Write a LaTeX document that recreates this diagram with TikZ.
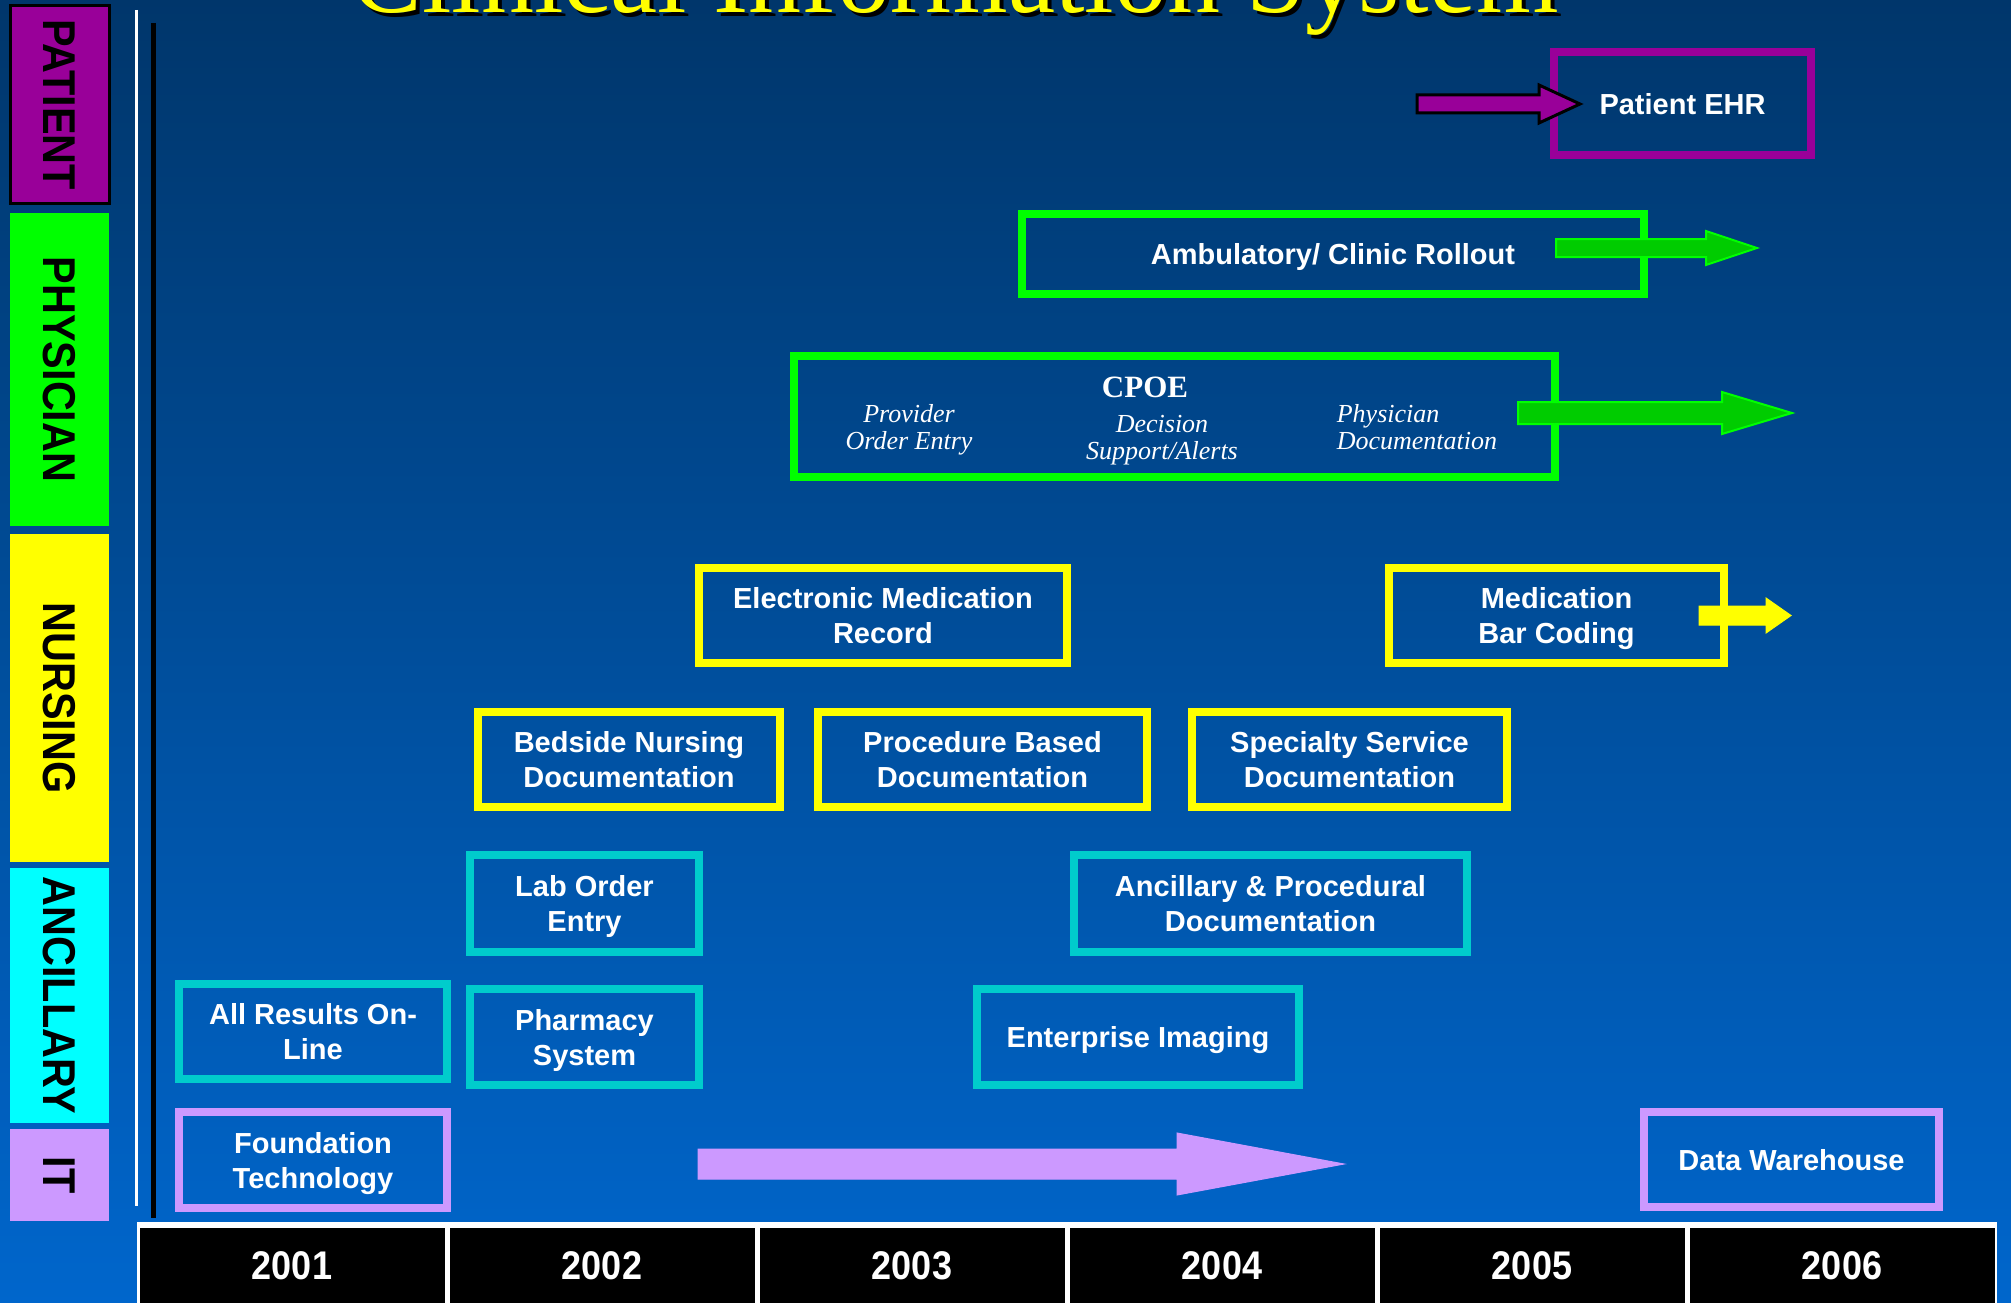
\documentclass[tikz,border=0pt]{standalone}
\usepackage{fontspec}
\setmainfont{Liberation Serif}
\setsansfont{Liberation Sans}
\usepackage{graphicx}

\definecolor{bgtop}{RGB}{0,54,107}
\definecolor{bgbot}{RGB}{0,102,204}
\definecolor{ehrpurple}{RGB}{153,0,153}
\definecolor{physgreen}{RGB}{0,255,0}
\definecolor{arrowgreen}{RGB}{0,204,0}
\definecolor{nursyellow}{RGB}{255,255,0}
\definecolor{anccyan}{RGB}{0,204,204}
\definecolor{lanecyan}{RGB}{0,255,255}
\definecolor{itlav}{RGB}{204,153,255}

\tikzset{
        taskbox/.style={draw, line width=8pt, inner sep=0pt, align=center, text=white, text depth=0pt,
            font=\sffamily\bfseries\fontsize{29}{35}\selectfont},
        patbox/.style={taskbox, draw=ehrpurple},
        physbox/.style={taskbox, draw=physgreen},
        nursbox/.style={taskbox, draw=nursyellow},
        ancbox/.style={taskbox, draw=anccyan},
        itbox/.style={taskbox, draw=itlav},
        lane/.style={inner sep=0pt, minimum height=99pt, rotate=-90, text=black,
            font=\sffamily\bfseries\fontsize{46}{50}\selectfont},
        yearcell/.style={fill=black, inner sep=0pt, minimum width=305pt, minimum height=76pt,
            text=white, font=\sffamily\bfseries\fontsize{40}{44}\selectfont},
        cpoeitem/.style={inner sep=0pt, align=center, text=white,
            font=\itshape\fontsize{26}{27}\selectfont}
    }

% block arrow: style, start x, tip x, y, half shaft, half head, head start x
\newcommand{\blockarrow}[7]{%
    \filldraw[#1] (#2,#4-#5) -- (#7,#4-#5) -- (#7,#4-#6) -- (#3,#4)
        -- (#7,#4+#6) -- (#7,#4+#5) -- (#2,#4+#5) -- cycle;}

\begin{document}
\begin{tikzpicture}[x=1pt,y=-1pt]
            \useasboundingbox (0,0) rectangle (2011,1303);
            \clip (0,0) rectangle (2011,1303);
            \shade[top color=bgtop, bottom color=bgbot] (0,0) rectangle (2011,1303);

            % title, cut by the top edge
            \node [anchor=base, text=black, font=\fontsize{106}{110}\selectfont] (title shadow) at (959,17) {Clinical Information System};
            \node [anchor=base, text=nursyellow, font=\fontsize{106}{110}\selectfont] (title) at (955,13) {Clinical Information System};

            % lanes
            \node [lane, fill=ehrpurple, draw=black, line width=3pt, minimum width=197pt] (patient) at (59.5,104.5) {\scalebox{0.9}[1]{PATIENT}};
            \node [lane, fill=physgreen, minimum width=313pt] (physician) at (59.5,369.5) {\scalebox{0.9}[1]{PHYSICIAN}};
            \node [lane, fill=nursyellow, minimum width=328pt] (nursing) at (59.5,698) {\scalebox{0.9}[1]{NURSING}};
            \node [lane, fill=lanecyan, minimum width=255pt] (ancillary) at (59.5,995.5) {\scalebox{0.9}[1]{ANCILLARY}};
            \node [lane, fill=itlav, minimum width=92pt] (it) at (59.5,1175) {\scalebox{0.9}[1]{IT}};

            \draw [white, line width=3pt] (136,10) -- (136,1206);
            \draw [black, line width=5pt] (153,23) -- (153,1218);

            % projects
            \node [patbox, minimum width=257pt, minimum height=103pt] (ehr) at (1682.5,103.5) {Patient EHR};
            \node [physbox, minimum width=622pt, minimum height=80pt] (ambulatory) at (1333,254) {Ambulatory/ Clinic Rollout};
            \node [physbox, minimum width=761pt, minimum height=121pt] (cpoe) at (1174.5,416.5) {};
            \node [inner sep=0pt, text=white, font=\bfseries\fontsize{31}{33}\selectfont] (cpoe title) at (1145,387) {CPOE};
            \node [cpoeitem] (provider) at (909,430) {Provider\\Order Entry};
            \node [cpoeitem] (decision) at (1162,440) {Decision\\Support/Alerts};
            \node [cpoeitem, align=left] (physdoc) at (1417,427) {Physician\\Documentation};

            \node [nursbox, minimum width=368pt, minimum height=95pt] (emr) at (883,615.5) {Electronic Medication\\Record};
            \node [nursbox, minimum width=335pt, minimum height=95pt] (barcode) at (1556.5,615.5) {Medication\\Bar Coding};
            \node [nursbox, minimum width=302pt, minimum height=95pt] (bedside) at (629,759.5) {Bedside Nursing\\Documentation};
            \node [nursbox, minimum width=329pt, minimum height=95pt] (procedure) at (982.5,759.5) {Procedure Based\\Documentation};
            \node [nursbox, minimum width=315pt, minimum height=95pt] (specialty) at (1349.5,759.5) {Specialty Service\\Documentation};

            \node [ancbox, minimum width=229pt, minimum height=97pt] (laborder) at (584.5,903.5) {Lab Order\\Entry};
            \node [ancbox, minimum width=393pt, minimum height=97pt] (ancproc) at (1270.5,903.5) {Ancillary \& Procedural\\Documentation};
            \node [ancbox, minimum width=268pt, minimum height=95pt] (results) at (313,1031.5) {All Results On-\\Line};
            \node [ancbox, minimum width=229pt, minimum height=96pt] (pharmacy) at (584.5,1037) {Pharmacy\\System};
            \node [ancbox, minimum width=322pt, minimum height=96pt] (imaging) at (1138,1037) {Enterprise Imaging};

            \node [itbox, minimum width=268pt, minimum height=96pt] (foundation) at (313,1160) {Foundation\\Technology};
            \node [itbox, minimum width=295pt, minimum height=95pt] (warehouse) at (1791.5,1159.5) {Data Warehouse};

            % arrows
            \blockarrow{fill=ehrpurple, draw=black, line width=3pt}{1417}{1580}{104}{9}{19}{1539}
            \blockarrow{fill=arrowgreen, draw=physgreen, line width=2pt}{1556}{1757}{248}{9}{17}{1706}
            \blockarrow{fill=arrowgreen, draw=physgreen, line width=2pt}{1518}{1792}{413}{11}{21}{1722}
            \blockarrow{fill=nursyellow, draw=nursyellow, line width=1pt}{1699}{1791}{615.5}{9.5}{17.5}{1766}
            \blockarrow{fill=itlav, draw=itlav, line width=1pt}{698}{1344}{1164}{15}{31}{1177}

            % years
            \fill [white] (137,1222) rectangle (1997,1303);
            \node [yearcell] (y2001) at (292,1266) {\scalebox{0.9}[1]{2001}};
            \node [yearcell] (y2002) at (602,1266) {\scalebox{0.9}[1]{2002}};
            \node [yearcell] (y2003) at (912,1266) {\scalebox{0.9}[1]{2003}};
            \node [yearcell] (y2004) at (1222,1266) {\scalebox{0.9}[1]{2004}};
            \node [yearcell] (y2005) at (1532,1266) {\scalebox{0.9}[1]{2005}};
            \node [yearcell] (y2006) at (1842,1266) {\scalebox{0.9}[1]{2006}};
        \end{tikzpicture}
\end{document}
